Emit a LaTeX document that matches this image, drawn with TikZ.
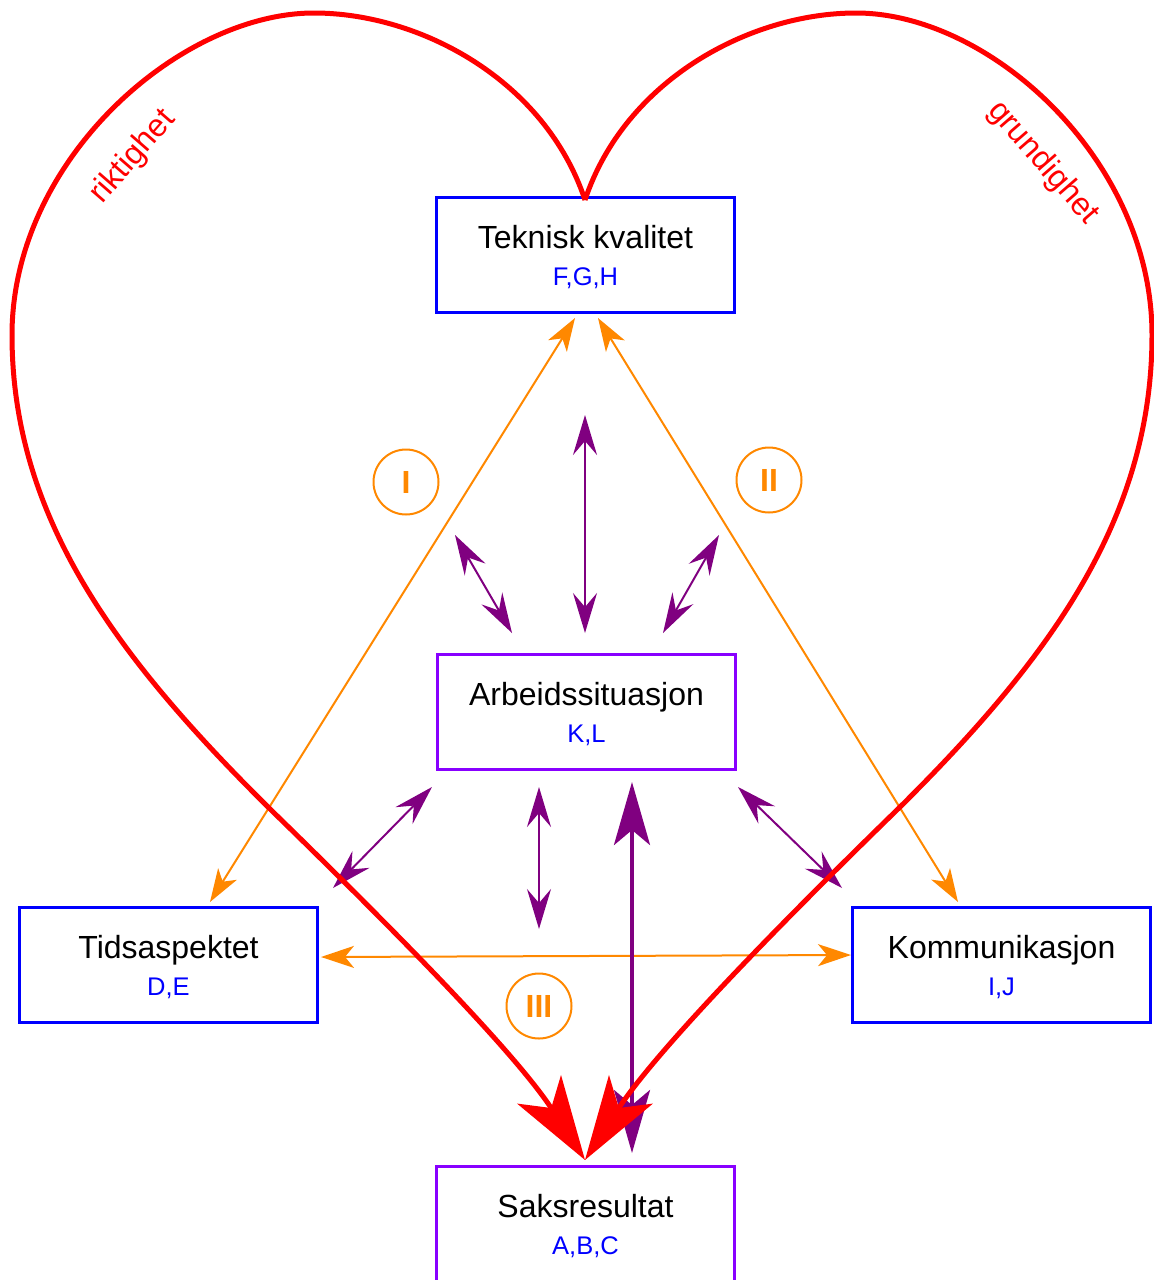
\documentclass[tikz,border=0pt]{standalone}
\usepackage{fontspec}
\setmainfont{Liberation Sans}
\usetikzlibrary{arrows.meta}
\definecolor{hblue}{RGB}{0,0,255}
\definecolor{hviolet}{RGB}{136,0,255}
\definecolor{hpurple}{RGB}{128,0,128}
\definecolor{horange}{RGB}{255,136,0}
\definecolor{hred}{RGB}{255,0,0}
\begin{document}
\begin{tikzpicture}[x=1pt,y=-1pt,
  boxb/.style={draw=hblue, line width=3pt, minimum width=298pt, minimum height=115pt, inner sep=0pt},
  boxv/.style={boxb, draw=hviolet},
  ttl/.style={font=\fontsize{32}{36}\selectfont, anchor=base, inner sep=0pt},
  subtx/.style={font=\fontsize{25.5}{30}\selectfont, text=hblue, anchor=base, inner sep=0pt},
  oarr/.style={draw=horange, line width=2pt, {Stealth[length=33pt,width=22pt,inset=9pt]}-{Stealth[length=33pt,width=22pt,inset=9pt]}},
  parr/.style={draw=hpurple, line width=2pt, {Stealth[length=40pt,width=24pt,inset=14pt]}-{Stealth[length=40pt,width=24pt,inset=14pt]}},
  bigarr/.style={draw=hpurple, line width=4pt, {Stealth[length=63pt,width=36pt,inset=15pt]}-{Stealth[length=63pt,width=36pt,inset=15pt]}},
  heartline/.style={draw=hred, line width=5pt, -{Stealth[length=84pt,width=52pt,inset=22pt]}},
  roman/.style={circle, draw=horange, line width=2pt, minimum size=65pt, inner sep=0pt, text=horange, font=\fontsize{32}{36}\selectfont\bfseries},
  sidelbl/.style={text=hred, font=\fontsize{32}{36}\selectfont, inner sep=0pt}
]
\useasboundingbox (0,0) rectangle (1154,1280);

% boxes
\node[boxb] (tk) at (585.5,255) {};
\node[boxv] (ar) at (586.5,712) {};
\node[boxb] (ti) at (168.5,965) {};
\node[boxb] (ko) at (1001.5,965) {};
\node[boxv] (sk) at (585.5,1224) {};

\node[ttl] (tkt) at ([yshift=7pt]tk.center) {Teknisk kvalitet};
\node[subtx] (tks) at ([yshift=-30pt]tk.center) {F,G,H};
\node[ttl] (art) at ([yshift=7pt]ar.center) {Arbeidssituasjon};
\node[subtx] (ars) at ([yshift=-30pt]ar.center) {K,L};
\node[ttl] (tit) at ([yshift=7pt]ti.center) {Tidsaspektet};
\node[subtx] (tis) at ([yshift=-30pt]ti.center) {D,E};
\node[ttl] (kot) at ([yshift=7pt]ko.center) {Kommunikasjon};
\node[subtx] (kos) at ([yshift=-30pt]ko.center) {I,J};
\node[ttl] (skt) at ([yshift=7pt]sk.center) {Saksresultat};
\node[subtx] (sks) at ([yshift=-30pt]sk.center) {A,B,C};

% roman numerals
\node[roman] (r1) at (406,482) {I};
\node[roman] (r2) at (769,480) {II};
\node[roman] (r3) at (539,1006) {III};

% orange arrows
\coordinate (o1a) at (575,318);
\coordinate (o1b) at (210,902);
\coordinate (o2a) at (598,318);
\coordinate (o2b) at (958,902);
\coordinate (o3a) at (321,957);
\coordinate (o3b) at (851,955);
\draw[oarr] (o1a) -- (o1b);
\draw[oarr] (o2a) -- (o2b);
\draw[oarr] (o3a) -- (o3b);

% purple arrows
\coordinate (p1a) at (585,415);  \coordinate (p1b) at (585,633);
\coordinate (p2a) at (455,535);  \coordinate (p2b) at (512,633);
\coordinate (p3a) at (719,535);  \coordinate (p3b) at (663,633);
\coordinate (p4a) at (432,787);  \coordinate (p4b) at (333,888);
\coordinate (p5a) at (738,787);  \coordinate (p5b) at (842,888);
\coordinate (p6a) at (539,787);  \coordinate (p6b) at (539,929);
\coordinate (p7a) at (632,782);  \coordinate (p7b) at (632,1153);
\draw[parr] (p1a) -- (p1b);
\draw[parr] (p2a) -- (p2b);
\draw[parr] (p3a) -- (p3b);
\draw[parr] (p4a) -- (p4b);
\draw[parr] (p5a) -- (p5b);
\draw[parr] (p6a) -- (p6b);
\draw[bigarr] (p7a) -- (p7b);

% heart
\coordinate (cusp) at (585,200);
\coordinate (htip) at (585,1160);
\draw[heartline] (cusp) .. controls (545,80) and (420,13) .. (314,13)
  .. controls (180,13) and (12,160) .. (12,335)
  .. controls (12,520) and (120,660) .. (268,807)
  .. controls (420,955) and (520,1060) .. (htip);
\draw[heartline] (cusp) .. controls (625,80) and (750,13) .. (856,13)
  .. controls (990,13) and (1152,160) .. (1152,335)
  .. controls (1152,520) and (1048,660) .. (900,807)
  .. controls (748,955) and (650,1060) .. (htip);

\node[sidelbl, rotate=49] (rik) at (133,157) {riktighet};
\node[sidelbl, rotate=-49] (gru) at (1043,163) {grundighet};
\end{tikzpicture}
\end{document}
